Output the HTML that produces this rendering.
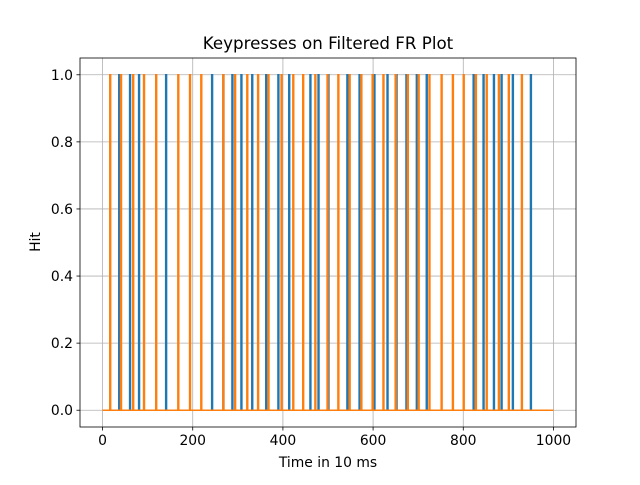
<!DOCTYPE html>
<html><head><meta charset="utf-8"><style>
body{margin:0;background:#fff;font-family:"Liberation Sans","DejaVu Sans",sans-serif;}
svg text{font-family:"DejaVu Sans","Liberation Sans",sans-serif;}
</style></head><body>
<svg id="chart" width="640" height="480" xmlns="http://www.w3.org/2000/svg">
<rect width="640" height="480" fill="#fff"/>
<g id="grid"></g>
<g id="series"></g>
<rect x="80" y="58" width="496" height="369" fill="none" stroke="#000" stroke-width="0.8"/>
<g id="ticks"></g>
<text x="328" y="49" font-size="16.7" text-anchor="middle">Keypresses on Filtered FR Plot</text>
<text x="328" y="467" font-size="13.9" text-anchor="middle">Time in 10 ms</text>
<text transform="translate(40,242) rotate(-90)" font-size="13.9" text-anchor="middle">Hit</text>
</svg>
<script>
const xTicks=[0,200,400,600,800,1000];
const yTicks=[0.0,0.2,0.4,0.6,0.8,1.0];
const yTickLabels=["0.0","0.2","0.4","0.6","0.8","1.0"];
const blueHits=[36,60,80,140,242,267,287,307,331,362,389,413,460,478,500,542,569,602,631,651,673,696,718,822,844,867,884,909,949];
const orangeHits=[16,40,67,91,118,167,193,218,267,293,320,344,367,396,422,444,471,498,522,547,573,598,622,649,676,700,724,751,776,800,827,851,878,900,929];
const tMax=1000;
const X=v=>80+(v+50)/1100*496;
const Y=v=>427-(v+0.05)/1.1*369;
const NS="http://www.w3.org/2000/svg";
const grid=document.getElementById('grid'),ticks=document.getElementById('ticks'),series=document.getElementById('series');
function mk(tag,attrs,parent){const e=document.createElementNS(NS,tag);for(const k in attrs)e.setAttribute(k,attrs[k]);parent.appendChild(e);return e;}
xTicks.forEach(v=>{
 const g=mk('line',{x1:X(v),x2:X(v),y1:58,y2:427,stroke:'#b0b0b0','stroke-width':0.8},grid);
 
 
 mk('line',{x1:X(v),x2:X(v),y1:427,y2:430.5,stroke:'#000','stroke-width':0.8},ticks);
 const t=mk('text',{x:X(v),y:445,'font-size':13.9,'text-anchor':'middle'},ticks);t.textContent=v;
 
 
});
yTicks.forEach((v,i)=>{
 const g=mk('line',{x1:80,x2:576,y1:Y(v),y2:Y(v),stroke:'#b0b0b0','stroke-width':0.8},grid);
 
 
 mk('line',{x1:76.5,x2:80,y1:Y(v),y2:Y(v),stroke:'#000','stroke-width':0.8},ticks);
 const t=mk('text',{x:73,y:Y(v)+5,'font-size':13.9,'text-anchor':'end'},ticks);t.textContent=yTickLabels[i];
 
 
});
function drawSeries(hits,color,name){
 let pts=[[0,0]];
 hits.forEach(h=>{pts.push([h,0],[h,1],[h+2,1],[h+2,0]);});
 pts.push([tMax,0]);
 const p=mk('polyline',{points:pts.map(q=>X(q[0])+','+Y(q[1])).join(' '),fill:'none',stroke:color,'stroke-width':1.5},series);
 
 
}
drawSeries(blueHits,'#1f77b4','blue-hit-series');
drawSeries(orangeHits,'#ff7f0e','orange-hit-series');
</script>
</body></html>
